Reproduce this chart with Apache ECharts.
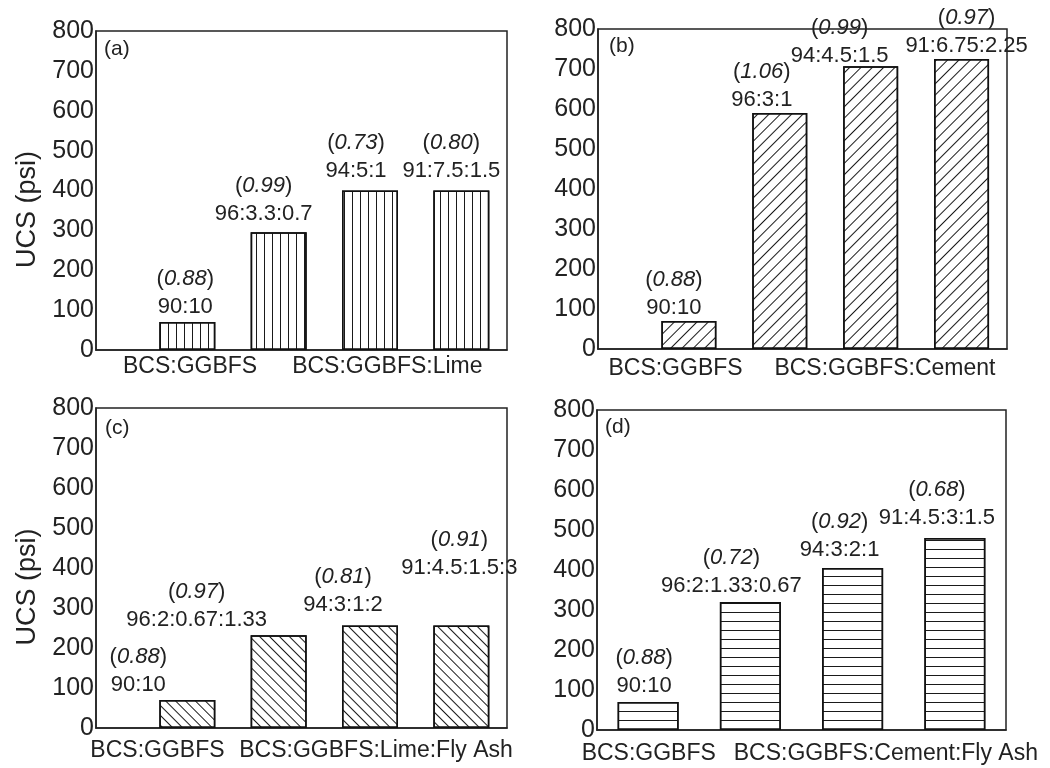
<!DOCTYPE html>
<html>
<head>
<meta charset="utf-8">
<script src="https://cdn.jsdelivr.net/npm/echarts@6/dist/echarts.min.js"></script>
<style>html,body{margin:0;padding:0;background:#fff}#c{width:1050px;height:768px}</style>
</head>
<body>
<div id="c"></div>
<script>
// ---------- DATA ----------
const panelLetters = ['(a)', '(b)', '(c)', '(d)'];
const yAxisTitle = 'UCS (psi)';
const yMin = 0, yMax = 800, yStep = 100;
const slots = [1, 2, 3, 4];

const groupsA = ['BCS:GGBFS', 'BCS:GGBFS:Lime'];
const mixA = ['90:10', '96:3.3:0.7', '94:5:1', '91:7.5:1.5'];
const ratioA = ['0.88', '0.99', '0.73', '0.80'];
const ucsA = [70, 295, 400, 400];

const groupsB = ['BCS:GGBFS', 'BCS:GGBFS:Cement'];
const mixB = ['90:10', '96:3:1', '94:4.5:1.5', '91:6.75:2.25'];
const ratioB = ['0.88', '1.06', '0.99', '0.97'];
const ucsB = [70, 590, 707, 725];

const groupsC = ['BCS:GGBFS', 'BCS:GGBFS:Lime:Fly Ash'];
const mixC = ['90:10', '96:2:0.67:1.33', '94:3:1:2', '91:4.5:1.5:3'];
const ratioC = ['0.88', '0.97', '0.81', '0.91'];
const ucsC = [70, 232, 256, 256];

const groupsD = ['BCS:GGBFS', 'BCS:GGBFS:Cement:Fly Ash'];
const mixD = ['90:10', '96:2:1.33:0.67', '94:3:2:1', '91:4.5:3:1.5'];
const ratioD = ['0.88', '0.72', '0.92', '0.68'];
const ucsD = [70, 320, 405, 480];

// ---------- LAYOUT / STYLE ----------
const FONT = '"Liberation Sans", Arial, sans-serif';
const INK = '#222';
const panels = [
  { letter: 0, ucs: ucsA, mix: mixA, ratio: ratioA, groups: groupsA,
    grid: { left: 96, right: 543, top: 31, bottom: 418 }, xMin: 0, xMax: 4.5, yName: true,
    groupAt: [1.03, 3.19], xLabelMargin: 5, barWidth: 56,
    letterPos: { left: 104, top: 39 },
    dx: [-2, -15, -14, -10], gap: [9, 12, 13, 13],
    decal: { symbol: 'rect', symbolSize: 1, dashArrayX: [1, 7], dashArrayY: [1, 0], rotation: 0 } },
  { letter: 1, ucs: ucsB, mix: mixB, ratio: ratioB, groups: groupsB,
    grid: { left: 598, right: 43, top: 29, bottom: 419 }, xMin: 0, xMax: 4.5, yName: false,
    groupAt: [0.853, 3.157], xLabelMargin: 8, barWidth: 55,
    letterPos: { left: 609, top: 36 },
    dx: [-15, -18, -31, 5], gap: [7, 7, 4, 7],
    decal: { symbol: 'rect', symbolSize: 1, dashArrayX: [1, 0], dashArrayY: [1, 7], rotation: -Math.PI / 4 } },
  { letter: 2, ucs: ucsC, mix: mixC, ratio: ratioC, groups: groupsC,
    grid: { left: 96, right: 543, top: 408, bottom: 40 }, xMin: 0, xMax: 4.5, yName: true,
    groupAt: [0.673, 3.066], xLabelMargin: 11, barWidth: 56,
    letterPos: { left: 105, top: 418 },
    dx: [-49, -82, -27, -2], gap: [9, 9, 14, 51],
    decal: { symbol: 'rect', symbolSize: 1, dashArrayX: [1, 0], dashArrayY: [1, 6], rotation: Math.PI / 4 } },
  { letter: 3, ucs: ucsD, mix: mixD, ratio: ratioD, groups: groupsD,
    grid: { left: 597, right: 44, top: 410, bottom: 38 }, xMin: 0.5, xMax: 4.5, yName: false,
    groupAt: [1.006, 3.325], xLabelMargin: 12, barWidth: 61,
    letterPos: { left: 605, top: 417 },
    dx: [-4, -19, -13, -18], gap: [10, 10, 12, 14],
    decal: { symbol: 'rect', symbolSize: 1, dashArrayX: [1, 0], dashArrayY: [1, 7.5], rotation: 0 } }
];
const GLYPH_BASE = 7.5; // distance from label box bottom to digit baseline

const option = {
  animation: false,
  backgroundColor: '#fff',
  textStyle: { fontFamily: FONT, color: INK },
  title: panels.map(p => ({
    text: panelLetters[p.letter], left: p.letterPos.left, top: p.letterPos.top, padding: 0,
    textStyle: { fontFamily: FONT, fontSize: 21, fontWeight: 'normal', color: INK }
  })),
  grid: panels.map(p => Object.assign({
    show: true, borderColor: INK, borderWidth: 1.5, backgroundColor: 'transparent',
    containLabel: false, outerBoundsMode: 'none'
  }, p.grid)),
  xAxis: panels.map((p, i) => ({
    type: 'value', gridIndex: i, min: p.xMin, max: p.xMax,
    axisLine: { show: true, lineStyle: { color: INK, width: 1.5 } },
    axisTick: { show: false }, splitLine: { show: false },
    axisLabel: {
      customValues: p.groupAt, margin: p.xLabelMargin,
      fontSize: 23, fontFamily: FONT, color: INK,
      formatter: (v, idx) => p.groups[idx] !== undefined ? p.groups[idx] : p.groups[p.groupAt.indexOf(v)]
    }
  })),
  yAxis: panels.map((p, i) => ({
    type: 'value', gridIndex: i, min: yMin, max: yMax, interval: yStep,
    axisLine: { show: true, lineStyle: { color: INK, width: 1.5 } },
    axisTick: { show: false }, splitLine: { show: false },
    axisLabel: { fontSize: 25, margin: 2, fontFamily: FONT, color: INK },
    name: p.yName ? yAxisTitle : '',
    nameLocation: 'middle', nameGap: 55,
    nameTextStyle: { fontSize: 27, fontFamily: FONT, color: INK, padding: [0, 38, 0, 0] }
  })),
  series: panels.map((p, i) => ({
    type: 'bar', xAxisIndex: i, yAxisIndex: i,
    barWidth: p.barWidth,
    itemStyle: {
      color: '#fff', borderColor: '#111', borderWidth: 1.5,
      decal: Object.assign({ color: '#1a1a1a', backgroundColor: 'rgba(0,0,0,0)' }, p.decal)
    },
    label: {
      show: true, position: 'top', distance: 0,
      formatter: (d) => '{p|(}{i|' + p.ratio[d.dataIndex] + '}{p|)}\n{n|' + p.mix[d.dataIndex] + '}',
      rich: {
        p: { fontSize: 22, fontFamily: FONT, color: INK, lineHeight: 28, align: 'center' },
        i: { fontSize: 22, fontFamily: FONT, color: INK, fontStyle: 'italic', lineHeight: 28, align: 'center' },
        n: { fontSize: 22, fontFamily: FONT, color: INK, lineHeight: 28, align: 'center' }
      }
    },
    data: p.ucs.map((v, k) => ({
      value: [slots[k], v],
      label: { offset: [p.dx[k], GLYPH_BASE - p.gap[k]] }
    }))
  }))
};

const chart = echarts.init(document.getElementById('c'), null, { renderer: 'canvas' });
chart.setOption(option);
</script>
</body>
</html>
